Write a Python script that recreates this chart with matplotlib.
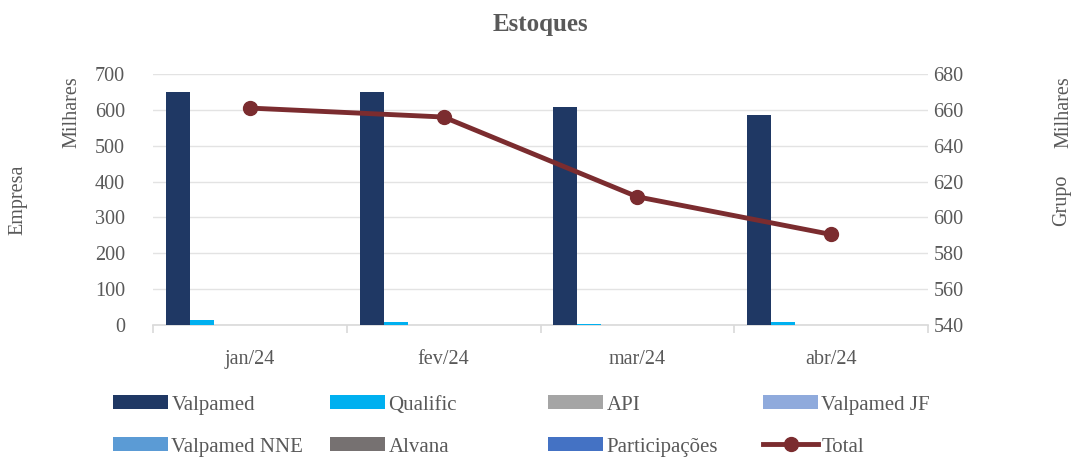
import numpy as np
import matplotlib.pyplot as plt

# dados
meses = ['jan/24', 'fev/24', 'mar/24', 'abr/24']
series = ['Valpamed', 'Qualific', 'API', 'Valpamed JF', 'Valpamed NNE', 'Alvana', 'Participações']
valpamed = [650, 650, 608, 585]
qualific = [13, 8, 3, 7]
api = [0, 0, 0, 0]
valpamed_jf = [0, 0, 0, 0]
valpamed_nne = [0, 0, 0, 0]
alvana = [0, 0, 0, 0]
participacoes = [0, 0, 0, 0]
total = [661, 656, 611.5, 590.5]

cores = ['#1f3864', '#00b0f0', '#a5a5a5', '#8faadc', '#5b9bd5', '#767171', '#4472c4']
cor_total = '#7b2c2f'
cinza = '#595959'

plt.rcParams['font.family'] = ['Liberation Serif', 'DejaVu Serif']

fig = plt.figure(figsize=(10.73, 4.59), dpi=100)
ax = fig.add_axes([153/1073, 1-325/459, 775/1073, 251/459])
ax2 = ax.twinx()

x = np.arange(len(meses))
largura = 0.124
valores = [valpamed, qualific, api, valpamed_jf, valpamed_nne, alvana, participacoes]
barras = []
for i, (nome, vals) in enumerate(zip(series, valores)):
    b = ax.bar(x + (i - 3) * largura, vals, largura, color=cores[i], label=nome, zorder=3)
    barras.append(b)

linha, = ax2.plot(x, total, color=cor_total, lw=3.5, marker='o', ms=10, label='Total', zorder=4)

ax.set_xlim(-0.5, 3.5)
ax.set_ylim(0, 700)
ax.set_yticks(range(0, 701, 100))
ax2.set_ylim(540, 680)
ax2.set_yticks(range(540, 681, 20))
ax.set_xticks(x)
ax.set_xticklabels(meses)
ax.set_xticks([-0.5, 0.5, 1.5, 2.5, 3.5], minor=True)
ax.tick_params(axis='x', which='major', length=0, pad=18, labelsize=14.5, labelcolor=cinza)
ax.tick_params(axis='x', which='minor', length=6, color='#d9d9d9', width=1.2)
ax.tick_params(axis='y', length=0, labelsize=14.5, labelcolor=cinza, pad=20)
ax2.tick_params(axis='y', length=0, labelsize=14.5, labelcolor=cinza, pad=4)
ax.grid(axis='y', color='#e3e3e3', lw=1, zorder=0)
for a in (ax, ax2):
    for s in a.spines.values():
        s.set_visible(False)
ax.spines['bottom'].set_visible(True)
ax.spines['bottom'].set_color('#d9d9d9')
ax.spines['bottom'].set_linewidth(1.2)

fig.text(540/1073, 1-25/459, 'Estoques', ha='center', va='center', fontsize=18, fontweight='bold', color=cinza)
fig.text(18/1073, 1-200/459, 'Empresa', rotation=90, ha='center', va='center', fontsize=14.5, color=cinza)
fig.text(72/1073, 1-112/459, 'Milhares', rotation=90, ha='center', va='center', fontsize=14.5, color=cinza)
fig.text(1064/1073, 1-112/459, 'Milhares', rotation=90, ha='center', va='center', fontsize=14.5, color=cinza)
fig.text(1062/1073, 1-200/459, 'Grupo', rotation=90, ha='center', va='center', fontsize=14.5, color=cinza)

# legenda, item a item, em grade 4x2
handles = barras + [linha]
labels = series + ['Total']
col_x = [113, 330, 548, 763]
lin_y = [405, 447]
for k, (h, lab) in enumerate(zip(handles, labels)):
    cx = col_x[k % 4]
    cy = lin_y[k // 4]
    fig.legend([h], [lab], loc='center left', bbox_to_anchor=(cx/1073, 1-cy/459),
               frameon=False, fontsize=15, labelcolor=cinza, handlelength=2.65,
               handleheight=0.65, handletextpad=0.15, borderpad=0, borderaxespad=0)

fig.savefig('out.png', dpi=100)
